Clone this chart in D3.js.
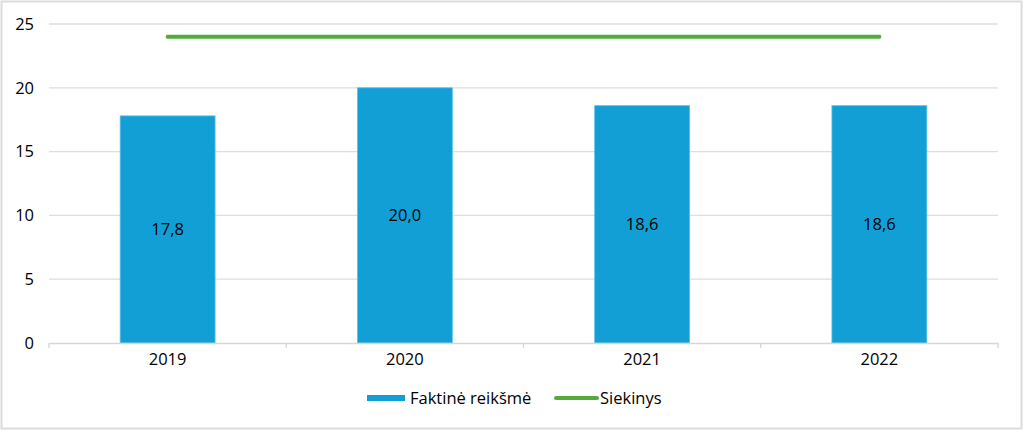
<!DOCTYPE html>
<html>
<head>
<meta charset="utf-8">
<script src="https://cdn.jsdelivr.net/npm/d3@7"></script>
<style>
	body { margin: 0; background: #fff; }
	svg { display: block; font-family: "Open Sans", "Noto Sans", sans-serif; }
</style>
</head>
<body>
<div id="chart"></div>
<script>
// data
const years = ["2019", "2020", "2021", "2022"];
const actual = [17.8, 20.0, 18.6, 18.6];
const target = [24, 24, 24, 24];
const yTicks = [0, 5, 10, 15, 20, 25];
const seriesNames = ["Faktinė reikšmė", "Siekinys"];

const width = 1024;
const height = 432;
const margin = {top: 24, right: 26, bottom: 89, left: 49};
const fontSize = 16.5;

const blue = "#129fd6";
const green = "#53ab3a";

const svg = d3.select("#chart")
	.append("svg")
	.attr("width", width)
	.attr("height", height);

// outer frame
svg.append("rect")
	.attr("x", 1.5)
	.attr("y", 1.5)
	.attr("width", width - 4)
	.attr("height", height - 5)
	.attr("fill", "#fff")
	.attr("stroke", "#dcdcdc")
	.attr("stroke-width", 2);

const x = d3.scaleBand()
	.domain(years)
	.range([margin.left, width - margin.right]);

const y = d3.scaleLinear()
	.domain([0, 25])
	.range([height - margin.bottom, margin.top]);

const barW = x.bandwidth() * 0.4;

// gridlines
svg.append("g")
	.selectAll("line")
	.data(yTicks.filter(d => d > 0))
	.enter()
	.append("line")
	.attr("x1", margin.left)
	.attr("x2", width - margin.right)
	.attr("y1", d => y(d))
	.attr("y2", d => y(d))
	.attr("stroke", "#dedede")
	.attr("stroke-width", 1.3);

// y axis labels
const yAxis = svg.append("g")
	.attr("transform", `translate(${margin.left},0)`)
	.call(d3.axisLeft(y).tickValues(yTicks).tickSize(0).tickPadding(15));
yAxis.select(".domain").remove();
yAxis.selectAll("text")
	.attr("font-size", fontSize)
	.attr("fill", "#000")
	.attr("font-family", "Open Sans, sans-serif");

// bars
svg.append("g")
	.selectAll("rect")
	.data(actual)
	.enter()
	.append("rect")
	.attr("x", (d, i) => x(years[i]) + x.bandwidth() / 2 - barW / 2)
	.attr("y", d => y(d))
	.attr("width", barW)
	.attr("height", d => y(0) - y(d))
	.attr("fill", blue)
	.attr("stroke", "#5cc0e6")
	.attr("stroke-width", 0.8);

// value labels
svg.append("g")
	.selectAll("text")
	.data(actual)
	.enter()
	.append("text")
	.attr("x", (d, i) => x(years[i]) + x.bandwidth() / 2)
	.attr("y", d => (y(d) + y(0)) / 2)
	.attr("dy", "0.35em")
	.attr("text-anchor", "middle")
	.attr("font-size", fontSize)
	.attr("fill", "#000")
	.text(d => d.toFixed(1).replace(".", ","));

// x axis
const xAxis = svg.append("g")
	.attr("transform", `translate(0,${y(0)})`)
	.call(d3.axisBottom(x).tickSize(0).tickPadding(10));
xAxis.select(".domain")
	.attr("stroke", "#d6d6d6")
	.attr("stroke-width", 1.3);
xAxis.selectAll("text")
	.attr("font-size", fontSize)
	.attr("fill", "#000")
	.attr("font-family", "Open Sans, sans-serif");

// category boundary ticks
svg.append("g")
	.selectAll("line")
	.data(years.map(d => x(d)).concat([x.range()[1]]))
	.enter()
	.append("line")
	.attr("x1", d => d)
	.attr("x2", d => d)
	.attr("y1", y(0))
	.attr("y2", y(0) + 5)
	.attr("stroke", "#d6d6d6")
	.attr("stroke-width", 1.3);

// target line
const line = d3.line()
	.x((d, i) => x(years[i]) + x.bandwidth() / 2)
	.y(d => y(d));

svg.append("path")
	.datum(target)
	.attr("d", line)
	.attr("fill", "none")
	.attr("stroke", green)
	.attr("stroke-width", 4)
	.attr("stroke-linecap", "round");

// legend
const legend = svg.append("g")
	.attr("transform", "translate(0,398)");

legend.append("rect")
	.attr("x", 367)
	.attr("y", -3)
	.attr("width", 38)
	.attr("height", 6)
	.attr("fill", blue);

legend.append("text")
	.attr("x", 410)
	.attr("y", 0)
	.attr("dy", "0.35em")
	.attr("font-size", fontSize)
	.attr("fill", "#000")
	.text(seriesNames[0]);

legend.append("line")
	.attr("x1", 556)
	.attr("x2", 597)
	.attr("y1", 0)
	.attr("y2", 0)
	.attr("stroke", green)
	.attr("stroke-width", 4)
	.attr("stroke-linecap", "round");

legend.append("text")
	.attr("x", 600)
	.attr("y", 0)
	.attr("dy", "0.35em")
	.attr("font-size", fontSize)
	.attr("fill", "#000")
	.text(seriesNames[1]);
</script>
</body>
</html>
